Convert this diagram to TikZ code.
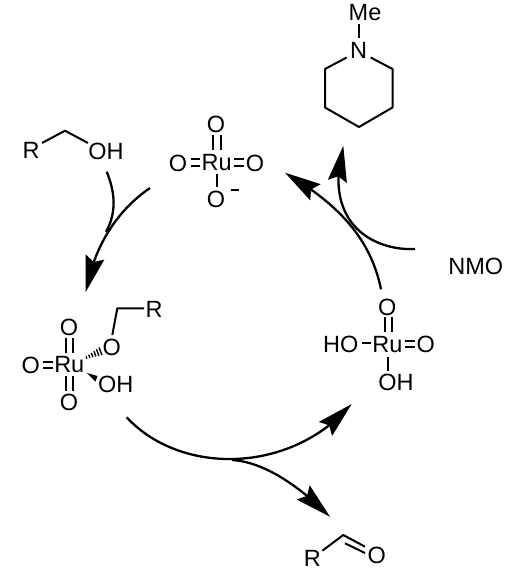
\documentclass[tikz,border=0pt]{standalone}
\usepackage{fontspec}
\setmainfont{Liberation Sans}
\usetikzlibrary{arrows.meta,bending}
\tikzset{
  atom/.style={inner sep=0pt,font=\fontsize{23.5}{25}\selectfont,text=black},
  bond/.style={line width=2pt,draw=black},
  curve/.style={line width=2.3pt,draw=black},
  curvetip/.style={curve,-{Stealth[length=36pt,width=19pt,inset=5pt,flex=1]}}
}
\begin{document}
\begin{tikzpicture}[x=1pt,y=-1pt]
\useasboundingbox (0,0) rectangle (508,580);
% piperidine
\node[atom] (me) at (365,13) {Me};
\node[atom] (n) at (358.7,50) {N};
\coordinate (c1) at (325,69);
\coordinate (c2) at (325,107.5);
\coordinate (c3) at (359,127);
\coordinate (c4) at (392.5,107.5);
\coordinate (c5) at (392.5,69);
\coordinate (n1) at (346.7,57.5);
\coordinate (n2) at (370.7,57.5);
\coordinate (m1) at (358.7,24);
\coordinate (m2) at (358.7,38);
\draw[bond,line join=round] (n1) -- (c1) -- (c2) -- (c3) -- (c4) -- (c5) -- (n2);
\draw[bond] (m1) -- (m2);
% alcohol
\node[atom] (ra) at (31,150.7) {R};
\node[atom] (oha) at (106,151.7) {OH};
\coordinate (ca) at (65,130.7);
\draw[bond,line join=round] (42,143) -- (ca) -- (88,143);
% RuO4-
\node[atom] (ru1) at (216.7,162.7) {Ru};
\node[atom] (o1t) at (216,124) {O};
\node[atom] (o1l) at (178,163) {O};
\node[atom] (o1r) at (255,163) {O};
\node[atom] (o1b) at (216,199.5) {O};
\draw[line width=1.8pt] (231,190) -- (239,190);
\draw[bond] (213.2,135) -- (213.2,150) (220.5,135) -- (220.5,150);
\draw[bond] (190.7,159.5) -- (200,159.5) (190.7,166) -- (200,166);
\draw[bond] (234.3,159.5) -- (244.3,159.5) (234.3,166) -- (244.3,166);
\draw[bond] (217,174) -- (217,187);
% arrow alcohol -> complex
\coordinate (a1s) at (150,188);
\coordinate (a1e) at (85.7,292);
\coordinate (a1b) at (106.7,171.7);
\draw[curvetip] (a1s) .. controls (115,212) and (94,248) .. (a1e);
\draw[curve] (a1b) .. controls (115,192) and (117,212) .. (106,232);
% left complex
\node[atom] (ru2) at (69.3,365) {Ru};
\node[atom] (o2t) at (69,327.3) {O};
\node[atom] (o2b) at (69,402.7) {O};
\node[atom] (o2l) at (30.7,365.7) {O};
\node[atom] (o2u) at (111.7,347.3) {O};
\node[atom] (oh2) at (115.7,384.3) {OH};
\node[atom] (r2) at (154,309.3) {R};
\draw[bond,line join=round] (112.3,335) -- (117.3,308.3) -- (144,308.3);
\draw[bond] (43.3,361.5) -- (53.3,361.5) (43.3,368) -- (53.3,368);
\draw[bond] (66,338.3) -- (66,353.3) (72.7,338.3) -- (72.7,353.3);
\draw[bond] (66,376) -- (66,391) (72.7,376) -- (72.7,391);
% hashed wedge
\foreach \i/\h in {0/1.2,1/1.7,2/2.2,3/2.8,4/3.4,5/4}{
  \draw[line width=1.4pt] ({86.5+2.8*\i-0.35*\h},{357.5-1.25*\i-0.94*\h}) -- ({86.5+2.8*\i+0.35*\h},{357.5-1.25*\i+0.94*\h});
}
% solid wedge
\fill (87,373) -- (97.5,376) -- (95.5,381.5) -- cycle;
% right complex
\node[atom] (ru3) at (387.3,344.3) {Ru};
\node[atom] (o3t) at (387.3,307.3) {O};
\node[atom] (oh3) at (396,382.7) {OH};
\node[atom] (ho3) at (340.7,344.3) {HO};
\node[atom] (o3r) at (425.7,344.7) {O};
\node[atom] (nmo) at (475.7,266) {NMO};
\draw[bond] (385,317.3) -- (385,332.3) (391.7,317.3) -- (391.7,332.3);
\draw[bond] (361.7,343.3) -- (370.7,343.3);
\draw[bond] (405,340.7) -- (415,340.7) (405,347.3) -- (415,347.3);
\draw[bond] (388.3,356.7) -- (388.3,370.7);
% top right arrows
\coordinate (a2s) at (381,289.3);
\coordinate (a2e) at (285,172.7);
\draw[curvetip] (a2s) .. controls (371,240) and (340,205) .. (a2e);
\coordinate (a3s) at (415,249);
\coordinate (a3e) at (343.3,145.7);
\draw[curvetip] (a3s) .. controls (375,251) and (322,225) .. (a3e);
% bottom arrows
\coordinate (b1s) at (126.7,417.3);
\coordinate (b1e) at (351.7,404);
\coordinate (b2s) at (232,460);
\coordinate (b2e) at (330,516.7);
\draw[curvetip] (b1s) .. controls (180,475) and (290,475) .. (b1e);
\draw[curvetip] (b2s) .. controls (265,462) and (300,487) .. (b2e);
% aldehyde
\node[atom] (r4) at (312.3,558.3) {R};
\node[atom] (o4) at (376.7,555) {O};
\draw[bond,line join=round] (322.3,550.7) -- (343.3,535) -- (365,546.7);
\draw[bond] (345,543.3) -- (365,553);
\end{tikzpicture}
\end{document}
